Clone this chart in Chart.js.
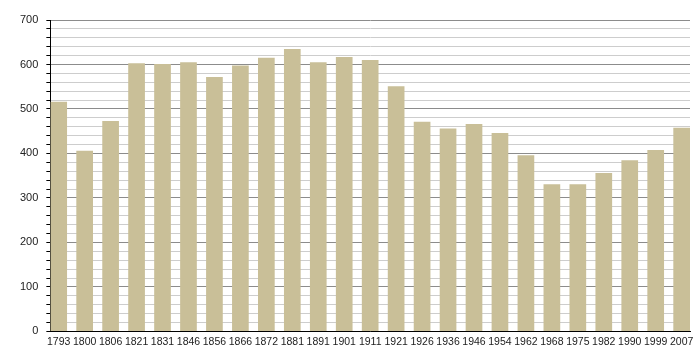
<!DOCTYPE html>
<html>
<head>
<meta charset="utf-8">
<script src="https://cdn.jsdelivr.net/npm/chart.js@4"></script>
<style>
  html, body { margin: 0; padding: 0; background: #fff; }
  #wrap { width: 700px; height: 360px; }
</style>
</head>
<body>
<div id="wrap"><canvas id="chart-pop"></canvas></div>
<script>
const years = [
  "1793", "1800", "1806", "1821", "1831", "1846", "1856", "1866", "1872",
  "1881", "1891", "1901", "1911", "1921", "1926", "1936", "1946", "1954",
  "1962", "1968", "1975", "1982", "1990", "1999", "2007",
];
const population = [
  516, 406, 473, 603, 601, 605, 572, 598, 615,
  635, 605, 617, 610, 551, 471, 456, 466, 446,
  396, 331, 331, 356, 385, 408, 458,
];

const ctxPop = document.querySelector("#chart-pop").getContext("2d");

const dataPop = {
  datasets: [
    {
      data: population.map((v, i) => ({ x: i, y: v })),
      backgroundColor: "#C9BF98",
      categoryPercentage: 0.643,
      barPercentage: 1,
    },
  ],
};

const optionsPop = {
  responsive: true,
  maintainAspectRatio: false,
  animation: false,
  layout: { padding: { top: 20, right: 10, bottom: 8, left: 12 } },
  plugins: {
    legend: { display: false },
    tooltip: { enabled: false },
  },
  scales: {
    x: {
      type: "linear",
      offset: false,
      min: -0.3215,
      max: 24.3215,
      afterBuildTicks: (axis) => {
        axis.ticks = years.map((y, i) => ({ value: i }));
      },
      grid: { display: false, drawTicks: false, offset: false },
      border: { display: true, color: "#000", width: 1 },
      ticks: {
        autoSkip: false,
        maxRotation: 0,
        padding: 4,
        color: "#222",
        font: { family: "Liberation Sans", size: 10.5 },
        callback: (v) => years[v],
      },
    },
    y: {
      min: 0,
      max: 700,
      ticks: {
        stepSize: 20,
        autoSkip: false,
        padding: 8,
        color: "#222",
        font: { family: "Liberation Sans", size: 11 },
        callback: (v) => (v % 100 === 0 ? v : ""),
      },
      grid: {
        color: (c) => (c.tick && c.tick.value % 100 === 0 ? "#8c8c8c" : "#cdcdcd"),
        tickColor: "#000",
        tickLength: 4,
        lineWidth: 1,
      },
      border: { display: true, color: "#000", width: 1 },
    },
  },
};

new Chart(ctxPop, {
  type: "bar",
  data: dataPop,
  options: optionsPop,
});
</script>
</body>
</html>
